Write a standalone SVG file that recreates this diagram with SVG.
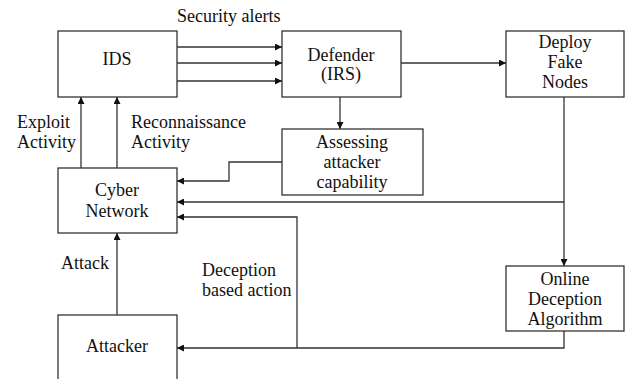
<svg xmlns="http://www.w3.org/2000/svg" width="629" height="379" viewBox="0 0 629 379">
<defs>
<style>
.box{fill:#fff;stroke:#333;stroke-width:1.3}
.ln{fill:none;stroke:#333;stroke-width:1.3}
text{font-family:"Liberation Serif","Times New Roman",serif;font-size:18px;fill:#111}
.c{text-anchor:middle}
</style>
<marker id="ah" viewBox="0 0 10 10" refX="10" refY="5" markerWidth="7" markerHeight="7" markerUnits="userSpaceOnUse" orient="auto">
<path d="M0,0 L10,5 L0,10 z" fill="#111"/>
</marker>
</defs>
<rect width="629" height="379" fill="#fff"/>
<g id="connectors">
<path class="ln" d="M177,47 H282" marker-end="url(#ah)"/>
<path class="ln" d="M177,63 H282" marker-end="url(#ah)"/>
<path class="ln" d="M177,81 H282" marker-end="url(#ah)"/>
<path class="ln" d="M401,63 H506" marker-end="url(#ah)"/>
<path class="ln" d="M340,97 V129" marker-end="url(#ah)"/>
<path class="ln" d="M282,162 H229 V181 H177" marker-end="url(#ah)"/>
<path class="ln" d="M564,97 V266" marker-end="url(#ah)"/>
<path class="ln" d="M564,202 H177" marker-end="url(#ah)"/>
<path class="ln" d="M564,331 V348 H177" marker-end="url(#ah)"/>
<path class="ln" d="M297,348 V217 H177" marker-end="url(#ah)"/>
<path class="ln" d="M117,315 V233" marker-end="url(#ah)"/>
<path class="ln" d="M81,168 V97" marker-end="url(#ah)"/>
<path class="ln" d="M117,168 V97" marker-end="url(#ah)"/>
<text x="177" y="22">Security alerts</text>
<text x="17" y="128">Exploit</text>
<text x="17" y="148">Activity</text>
<text x="131" y="128">Reconnaissance</text>
<text x="131" y="148">Activity</text>
<text x="61" y="269">Attack</text>
<text x="202" y="276">Deception</text>
<text x="202" y="296">based action</text>
</g>
<g id="ids"><rect class="box" x="58" y="31" width="119" height="66"/><text class="c" x="117" y="65">IDS</text></g>
<g id="defender"><rect class="box" x="282" y="31" width="119" height="66"/><text class="c" x="341" y="61">Defender</text><text class="c" x="341" y="80">(IRS)</text></g>
<g id="deploy"><rect class="box" x="506" y="31" width="118" height="66"/><text class="c" x="565" y="48">Deploy</text><text class="c" x="565" y="68">Fake</text><text class="c" x="565" y="88">Nodes</text></g>
<g id="assessing"><rect class="box" x="282" y="129" width="141" height="66"/><text class="c" x="352" y="148">Assessing</text><text class="c" x="352" y="168">attacker</text><text class="c" x="352" y="188">capability</text></g>
<g id="cyber"><rect class="box" x="58" y="168" width="119" height="65"/><text class="c" x="117" y="196">Cyber</text><text class="c" x="117" y="217">Network</text></g>
<g id="online"><rect class="box" x="506" y="266" width="118" height="65"/><text class="c" x="565" y="285">Online</text><text class="c" x="565" y="305">Deception</text><text class="c" x="565" y="325">Algorithm</text></g>
<g id="attacker"><rect class="box" x="58" y="315" width="119" height="70"/><text class="c" x="117" y="352">Attacker</text></g>
</svg>
